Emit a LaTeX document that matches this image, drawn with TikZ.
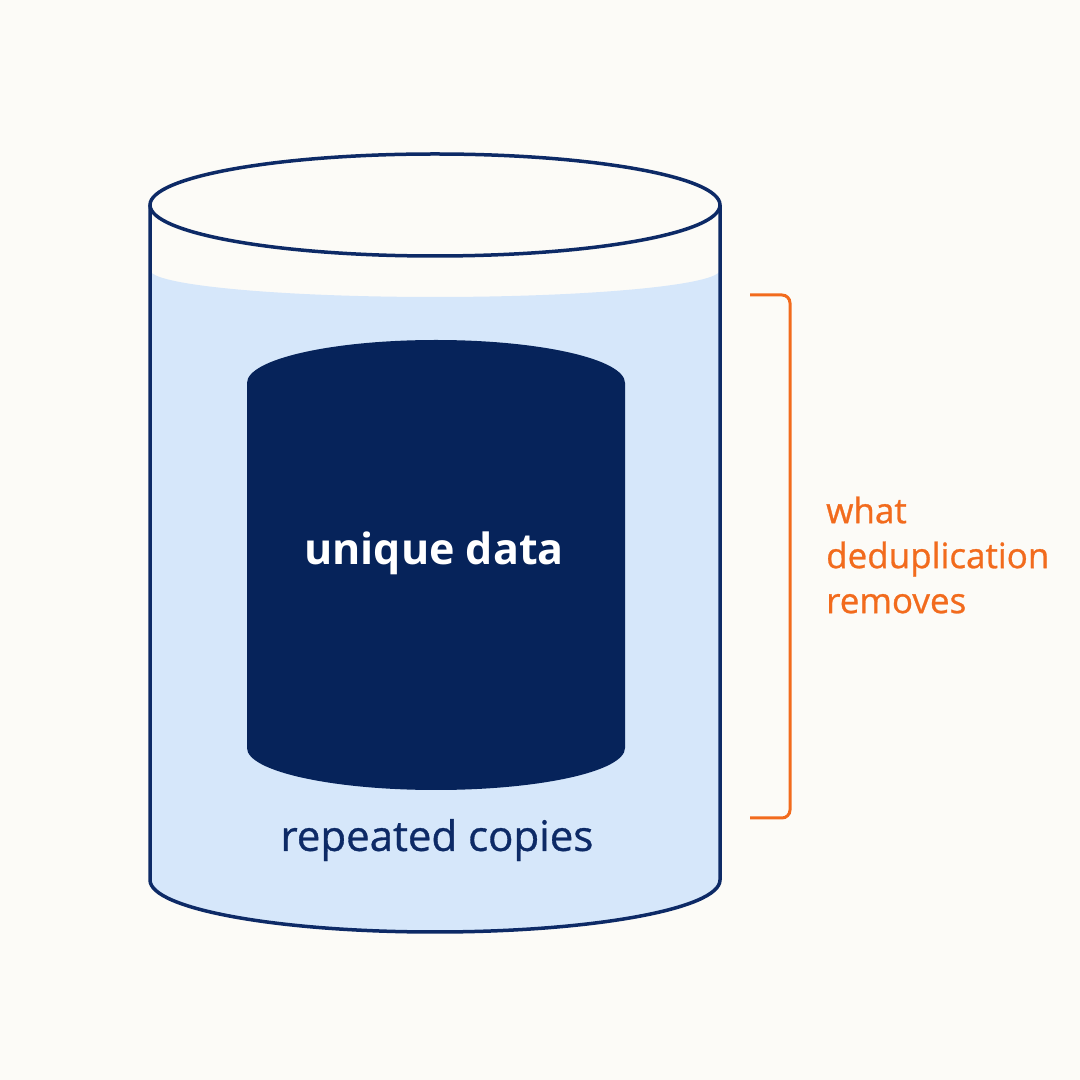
\documentclass[tikz,border=0pt]{standalone}
\usepackage{fontspec}
\setmainfont{Open Sans}
\newfontfamily\mediumfont{Open Sans}[FakeBold=0.8]
\definecolor{bgcream}{HTML}{FCFBF7}
\definecolor{navy}{HTML}{0D2A66}
\definecolor{darknavy}{HTML}{06235A}
\definecolor{liquid}{HTML}{D6E7FA}
\definecolor{brorange}{HTML}{F26B1D}
\begin{document}
\begin{tikzpicture}[x=1pt,y=1pt,
  edge/.style = {draw=navy, line width=3.5pt},
  label/.style = {font=\fontsize{42}{48}\selectfont\mediumfont},
  note/.style = {text=brorange, align=left, anchor=west, inner sep=0pt,
    font=\fontsize{35}{45}\selectfont\mediumfont}]
\useasboundingbox[fill=bgcream] (0,0) rectangle (1080,1080);
% outer cylinder
\fill[liquid] (150,810) arc[start angle=180,end angle=360,x radius=285,y radius=27]
  -- (720,200) arc[start angle=0,end angle=-180,x radius=285,y radius=52] -- cycle;
\draw[edge] (150,875) -- (150,200) arc[start angle=180,end angle=360,x radius=285,y radius=52] -- (720,875);
\draw[edge, fill=bgcream] (435,875) ellipse[x radius=285,y radius=51];
% inner cylinder
\fill[darknavy] (247,697) -- (247,332) arc[start angle=180,end angle=360,x radius=189,y radius=42]
  -- (625,697) arc[start angle=0,end angle=180,x radius=189,y radius=43] -- cycle;
% labels
\node[label, text=white, font=\fontsize{43}{48}\selectfont\bfseries] (unique) at (434,527) {unique data};
\node[label, text=navy] (repeated) at (437,240) {repeated copies};
% bracket
\coordinate (btop) at (750,785);
\coordinate (bbot) at (750,262);
\draw[brorange, line width=3pt, rounded corners=8pt] (btop) -- (790,785) -- (790,262) -- (bbot);
\node[note] (removes) at (826,525) {what\\deduplication\\removes};
\end{tikzpicture}
\end{document}
